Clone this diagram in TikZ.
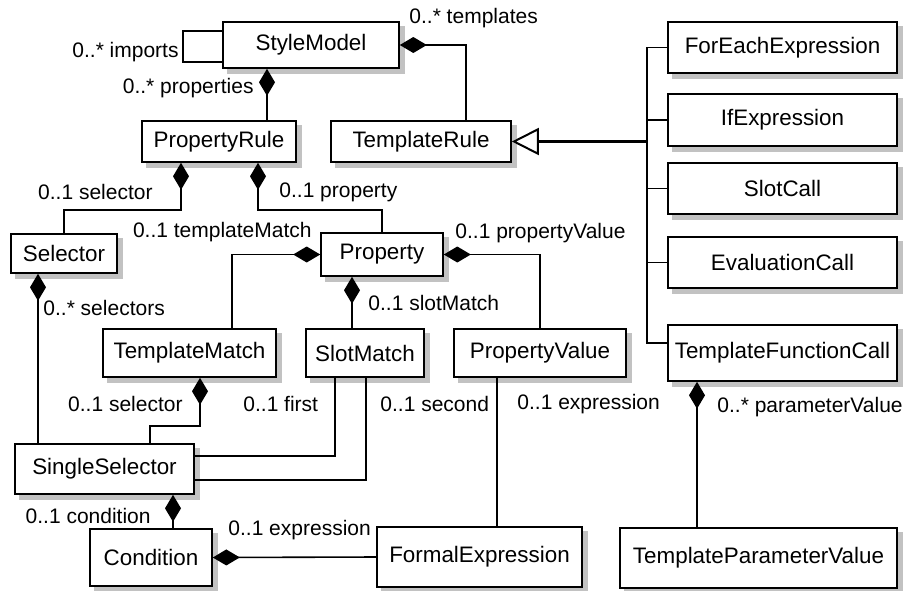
\documentclass[tikz,border=0pt]{standalone}
\usepackage{fontspec}
\setmainfont{Liberation Sans}
\usetikzlibrary{arrows.meta}

\pgfdeclarelayer{background}
\pgfsetlayers{background,main}

\tikzset{
  class/.style={draw, fill=white, line width=0.8pt, inner sep=0pt,
    font=\fontsize{11.2}{13}\selectfont},
  shade box/.style={fill=black!24},
  lbl/.style={inner sep=0pt, font=\fontsize{10.5}{12}\selectfont},
  assoc/.style={line width=0.8pt},
  comp/.style={assoc, {Diamond[length=13.5pt, width=8pt]}-},
  genline/.style={line width=0.9pt},
  inherit/.style={line width=1.2pt, -{Triangle[open, length=13.5pt, width=13.5pt, line width=1pt]}}
}

\begin{document}
\begin{tikzpicture}[x=0.5pt, y=-0.5pt]
    \useasboundingbox (0,0) rectangle (904,590);

    % classes
    \node[class, minimum width=88pt, minimum height=23pt] (style) at (311,45) {StyleModel};
    \node[class, minimum width=77pt, minimum height=20.5pt] (proprule) at (219,141.5) {PropertyRule};
    \node[class, minimum width=90pt, minimum height=20.5pt] (temprule) at (421,141.5) {TemplateRule};
    \node[class, minimum width=53pt, minimum height=19.5pt] (selector) at (64,253.5) {Selector};
    \node[class, minimum width=61pt, minimum height=21.5pt] (property) at (382,254.5) {Property};
    \node[class, minimum width=86.5pt, minimum height=24pt] (tmatch) at (189.5,353) {TemplateMatch};
    \node[class, minimum width=59pt, minimum height=24pt] (smatch) at (365,353) {SlotMatch};
    \node[class, minimum width=86pt, minimum height=24pt] (pvalue) at (540,353) {PropertyValue};
    \node[class, minimum width=89.5pt, minimum height=25pt] (single) at (104.5,469) {SingleSelector};
    \node[class, minimum width=61pt, minimum height=28.5pt] (condition) at (151,557.5) {Condition};
    \node[class, minimum width=102.5pt, minimum height=30pt] (formal) at (479.5,557) {FormalExpression};

    % subclasses of TemplateRule
    \node[class, minimum width=114.5pt, minimum height=25.5pt] (foreach) at (782.5,47.5) {ForEachExpression};
    \node[class, minimum width=114.5pt, minimum height=26pt] (ifexpr) at (782.5,120) {IfExpression};
    \node[class, minimum width=114.5pt, minimum height=25.5pt] (slotcall) at (782.5,188.5) {SlotCall};
    \node[class, minimum width=114.5pt, minimum height=25.5pt] (evalcall) at (782.5,262.5) {EvaluationCall};
    \node[class, minimum width=114.5pt, minimum height=28pt] (tfcall) at (782.5,353) {TemplateFunctionCall};
    \node[class, minimum width=138.5pt, minimum height=30pt] (tpv) at (758.5,558) {TemplateParameterValue};

    % shadows
    \begin{pgfonlayer}{background}
    \foreach \n in {style,proprule,temprule,selector,property,tmatch,smatch,pvalue,single,condition,formal,foreach,ifexpr,slotcall,evalcall,tfcall,tpv}
        \fill[shade box] ([shift={(2.5pt,-2.5pt)}]\n.south west) rectangle ([shift={(2.5pt,-2.5pt)}]\n.north east);
    \end{pgfonlayer}

    % imports
    \draw[assoc] ([yshift=7pt]style.west) -- ++(-39,0) |- ([yshift=-8.5pt]style.west);
    \node[lbl, anchor=east] (implbl) at (179,52) {0..* imports};

    % compositions
    \draw[comp] ([xshift=-22pt]style.south) -- ([xshift=24pt]proprule.north);
    \node[lbl, anchor=east] (proplbl) at (254,88) {0..* properties};

    \draw[comp] (style.east) -| ([xshift=22.5pt]temprule.north);
    \node[lbl, anchor=west] (templbl) at (409,18) {0..* templates};

    \draw[comp] ([xshift=-19pt]proprule.south) -- ++(0,47) -| (selector.north);
    \node[lbl, anchor=east] (sellbl) at (153,192) {0..1 selector};

    \draw[comp] ([xshift=19.5pt]proprule.south) -- ++(0,47) -| (property.north);
    \node[lbl, anchor=west] (propertylbl) at (279,192) {0..1 property};

    \draw[comp] (property.west) -| ([xshift=21.25pt]tmatch.north);
    \node[lbl, anchor=east] (tmatchlbl) at (312,232) {0..1 templateMatch};

    \draw[comp] ([xshift=-15pt]property.south) -- ([xshift=-6.5pt]smatch.north);
    \node[lbl, anchor=west] (smatchlbl) at (368,303) {0..1 slotMatch};

    \draw[comp] (property.east) -| (pvalue.north);
    \node[lbl, anchor=west] (pvaluelbl) at (455,233) {0..1 propertyValue};

    \draw[comp] ([xshift=-13pt]selector.south) -- ([xshift=-33.25pt]single.north);
    \node[lbl, anchor=west] (selectorslbl) at (43,308) {0..* selectors};

    \draw[comp] ([xshift=5.25pt]tmatch.south) -- ++(0,48) -| ([xshift=22.75pt]single.north);
    \node[lbl, anchor=east] (tmsellbl) at (183,404) {0..1 selector};

    \draw[assoc] ([yshift=6.5pt]single.east) -| ([xshift=-15pt]smatch.south);
    \node[lbl, anchor=west] (firstlbl) at (243,404) {0..1 first};

    \draw[assoc] ([yshift=-5.5pt]single.east) -| ([xshift=0.5pt]smatch.south);
    \node[lbl, anchor=west] (secondlbl) at (380,404) {0..1 second};

    \draw[assoc] ([xshift=-21.5pt]pvalue.south) -- ([xshift=8.75pt]formal.north);
    \node[lbl, anchor=west] (pvexprlbl) at (517,404) {0..1 expression};

    \draw[comp] ([xshift=34.25pt]single.south) -- ([xshift=11pt]condition.north);
    \node[lbl, anchor=east] (condlbl) at (151,516) {0..1 condition};

    \draw[comp] (condition.east) -- (formal.west);
    \node[lbl, anchor=west] (condexprlbl) at (228,530) {0..1 expression};

    \draw[comp] ([xshift=-42.75pt]tfcall.south) -- ([xshift=-30.75pt]tpv.north);
    \node[lbl, anchor=west] (paramlbl) at (717,407) {0..* parameterValue};

    % generalisation
    \coordinate (bus) at (647,141.5);
    \draw[genline] (foreach.west) -| (bus);
    \draw[genline] (ifexpr.west) -| (bus);
    \draw[genline] (slotcall.west) -| (bus);
    \draw[genline] (evalcall.west) -| (bus);
    \draw[genline] ([yshift=5pt]tfcall.west) -| (bus);
    \draw[inherit] (bus) -- (temprule.east);

\end{tikzpicture}
\end{document}
